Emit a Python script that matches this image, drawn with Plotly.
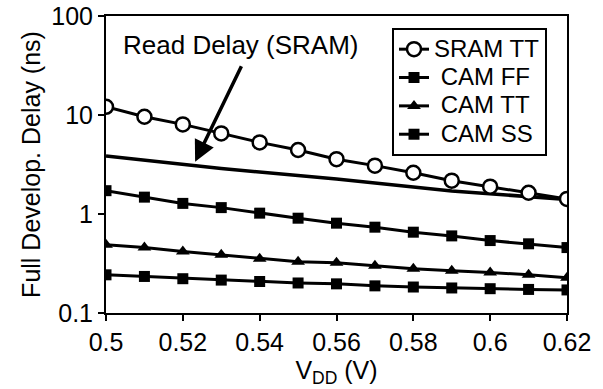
import plotly.graph_objects as go

vdd = [0.50, 0.51, 0.52, 0.53, 0.54, 0.55, 0.56, 0.57, 0.58, 0.59, 0.60, 0.61, 0.62]
sram_tt = [12.1, 9.6, 8.04, 6.52, 5.29, 4.43, 3.58, 3.08, 2.61, 2.17, 1.89, 1.64, 1.42]
cam_ff = [1.72, 1.48, 1.28, 1.16, 1.02, 0.907, 0.808, 0.736, 0.655, 0.601, 0.539, 0.50, 0.458]
cam_tt = [0.489, 0.458, 0.418, 0.387, 0.353, 0.329, 0.321, 0.30, 0.28, 0.267, 0.257, 0.243, 0.227]
cam_ss = [0.243, 0.234, 0.222, 0.215, 0.208, 0.201, 0.197, 0.188, 0.183, 0.179, 0.176, 0.173, 0.171]
read_vdd = [0.50, 0.53, 0.56, 0.59, 0.62]
read_delay = [3.85, 2.88, 2.26, 1.71, 1.40]

x_ticks = [0.50, 0.52, 0.54, 0.56, 0.58, 0.60, 0.62]
x_labels = ["0.5", "0.52", "0.54", "0.56", "0.58", "0.6", "0.62"]
y_ticks = [0.1, 1, 10, 100]
y_labels = ["0.1", "1", "10", "100"]

FONT = "Liberation Sans, Arial, sans-serif"
NB = "\u00a0"


def leg(name):
    return '<span style="font-size:24px">' + name + "</span>"


fig = go.Figure()
fig.add_trace(go.Scatter(x=read_vdd, y=read_delay, mode="lines",
                         line=dict(color="black", width=3.5), showlegend=False))
fig.add_trace(go.Scatter(x=vdd, y=sram_tt, mode="lines+markers", name=leg("SRAM TT"),
                         line=dict(color="black", width=3),
                         marker=dict(symbol="circle", size=14, color="white",
                                     line=dict(color="black", width=2.5))))
fig.add_trace(go.Scatter(x=vdd, y=cam_ff, mode="lines+markers", name=leg(NB + "CAM FF"),
                         line=dict(color="black", width=3),
                         marker=dict(symbol="square", size=11, color="black")))
fig.add_trace(go.Scatter(x=vdd, y=cam_tt, mode="lines+markers", name=leg(NB + "CAM TT"),
                         line=dict(color="black", width=3),
                         marker=dict(symbol="triangle-up", size=12, color="black")))
fig.add_trace(go.Scatter(x=vdd, y=cam_ss, mode="lines+markers", name=leg(NB + "CAM SS"),
                         line=dict(color="black", width=3),
                         marker=dict(symbol="square", size=11, color="black")))

fig.add_annotation(x=0.5232, y=0.528, xref="x", yref="y", text="",
                   showarrow=True, ax=47, ay=-97, arrowhead=2, arrowsize=1.2,
                   arrowwidth=3.5, arrowcolor="black", standoff=0)
fig.add_annotation(x=0.5351, y=1.705, xref="x", yref="y", text="Read Delay (SRAM)",
                   showarrow=False, font=dict(family=FONT, size=26, color="black"),
                   xanchor="center", yanchor="middle")

fig.update_layout(
    width=603, height=389,
    margin=dict(l=106, r=36, t=16, b=76),
    paper_bgcolor="white", plot_bgcolor="white",
    font=dict(family=FONT, size=25, color="black"),
    legend=dict(x=(392 - 106) / 461, y=(313 - 28) / 297, xanchor="left", yanchor="top",
                bordercolor="black", borderwidth=2, bgcolor="white",
                font=dict(family=FONT, size=19.5, color="black"),
                tracegroupgap=0, itemwidth=30),
)
fig.update_xaxes(range=[0.5, 0.62], tickvals=x_ticks, ticktext=x_labels,
                 showline=True, linecolor="black", linewidth=2, mirror=True,
                 ticks="outside", ticklen=6, tickwidth=2, tickcolor="black",
                 showgrid=False, zeroline=False, automargin=False,
                 tickfont=dict(family=FONT, size=25),
                 title=dict(text="V<sub>DD</sub> (V)", standoff=2,
                            font=dict(family=FONT, size=25)))
fig.update_yaxes(type="log", range=[-1, 2], tickvals=y_ticks, ticktext=y_labels,
                 showline=True, linecolor="black", linewidth=2, mirror=True,
                 ticks="outside", ticklen=6, tickwidth=2, tickcolor="black",
                 showgrid=False, zeroline=False, automargin=False,
                 tickfont=dict(family=FONT, size=25),
                 title=dict(text="Full Develop. Delay (ns)", standoff=4,
                            font=dict(family=FONT, size=25)))

fig.write_html("out.html", config={"displayModeBar": False},
               post_script="document.body.style.margin='0';")
